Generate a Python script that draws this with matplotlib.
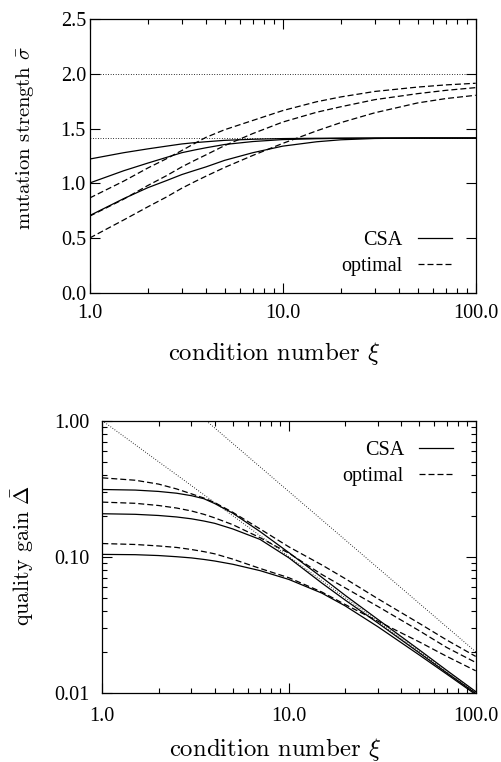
import numpy as np
import matplotlib
matplotlib.use("Agg")
import matplotlib.pyplot as plt

plt.rcParams["mathtext.fontset"] = "cm"
plt.rcParams["font.family"] = "Liberation Serif"

# condition number samples
xi = [1, 1.5, 2, 2.5, 3, 3.5, 4, 5, 7, 10, 15, 20, 30, 50, 70, 100]

# mutation strength (top)
sig_csa_1 = [1.222, 1.28, 1.315, 1.34, 1.36, 1.372, 1.38, 1.393, 1.403, 1.409, 1.412, 1.413, 1.414, 1.414, 1.414, 1.414]
sig_csa_2 = [1.003, 1.115, 1.185, 1.237, 1.28, 1.305, 1.325, 1.355, 1.382, 1.40, 1.408, 1.411, 1.413, 1.414, 1.414, 1.414]
sig_csa_3 = [0.705, 0.86, 0.96, 1.025, 1.08, 1.118, 1.15, 1.21, 1.28, 1.34, 1.38, 1.398, 1.41, 1.414, 1.414, 1.414]
sig_opt_1 = [0.866, 1.02, 1.14, 1.225, 1.30, 1.365, 1.42, 1.49, 1.575, 1.665, 1.746, 1.79, 1.84, 1.88, 1.90, 1.915]
sig_opt_2 = [0.70, 0.855, 0.98, 1.07, 1.15, 1.21, 1.26, 1.345, 1.455, 1.56, 1.65, 1.70, 1.765, 1.82, 1.85, 1.875]
sig_opt_3 = [0.50, 0.665, 0.785, 0.875, 0.955, 1.015, 1.065, 1.145, 1.255, 1.365, 1.48, 1.555, 1.645, 1.735, 1.775, 1.805]
sig_ref = [2.0, 1.414]

# quality gain (bottom)
gain_csa_1 = [0.312, 0.309, 0.302, 0.293, 0.281, 0.267, 0.246, 0.209, 0.153, 0.107, 0.0705, 0.052, 0.0345, 0.0206, 0.0146, 0.0102]
gain_csa_2 = [0.207, 0.205, 0.201, 0.196, 0.19, 0.183, 0.176, 0.16, 0.134, 0.098, 0.064, 0.048, 0.0325, 0.0196, 0.014, 0.0099]
gain_csa_3 = [0.104, 0.1035, 0.102, 0.1, 0.098, 0.0955, 0.093, 0.088, 0.079, 0.068, 0.054, 0.0435, 0.0305, 0.0189, 0.0137, 0.0097]
gain_opt_1 = [0.38, 0.365, 0.342, 0.315, 0.29, 0.27, 0.25, 0.212, 0.16, 0.118, 0.087, 0.069, 0.049, 0.0323, 0.0244, 0.0185]
gain_opt_2 = [0.252, 0.247, 0.238, 0.228, 0.217, 0.205, 0.193, 0.172, 0.138, 0.106, 0.074, 0.059, 0.043, 0.0285, 0.0215, 0.0167]
gain_opt_3 = [0.125, 0.123, 0.12, 0.117, 0.113, 0.109, 0.105, 0.096, 0.082, 0.07, 0.055, 0.0445, 0.0335, 0.0236, 0.0185, 0.0145]
ref_xi = [1, 100]
ref_lo = [1.0, 0.01]
ref_hi = [2.0, 0.02]
ref_hi_xi = [2, 100]

xticks = [1, 10, 100]
xticklabels = ["1.0", "10.0", "100.0"]

fig = plt.figure(figsize=(5.02, 7.62), dpi=100)
ax1 = fig.add_axes([0.1787, 0.6159, 0.7689, 0.3588])
ax2 = fig.add_axes([0.2038, 0.0909, 0.7438, 0.3570])

lw = 0.9
dash = (4.8, 2.4)
dot = (0.8, 1.8)
tick_fs = 14.5
xlabel_fs = 17.8

# top
for y in sig_ref:
    ax1.axhline(y, color="black", lw=0.7, dashes=dot)
ax1.plot(xi, sig_csa_1, color="black", lw=lw, label="CSA")
ax1.plot(xi, sig_csa_2, color="black", lw=lw)
ax1.plot(xi, sig_csa_3, color="black", lw=lw)
ax1.plot(xi, sig_opt_1, color="black", lw=lw, dashes=dash, label="optimal")
ax1.plot(xi, sig_opt_2, color="black", lw=lw, dashes=dash)
ax1.plot(xi, sig_opt_3, color="black", lw=lw, dashes=dash)
ax1.set_xscale("log")
ax1.set_xlim(1, 100)
ax1.set_ylim(0, 2.5)
ax1.set_yticks([0, 0.5, 1.0, 1.5, 2.0, 2.5])
ax1.set_yticklabels(["0.0", "0.5", "1.0", "1.5", "2.0", "2.5"])
ax1.set_xlabel(r"condition number $\xi$", family="cmr10", fontsize=xlabel_fs)
ax1.set_ylabel(r"mutation strength $\bar{\sigma}$", family="cmr10", fontsize=14.8)
ax1.xaxis.set_label_coords(0.477, -0.172)
ax1.yaxis.set_label_coords(-0.14, 0.566)
ax1.legend(loc="lower right", bbox_to_anchor=(0.9386, 0.062), frameon=False,
           markerfirst=False, handlelength=1.7, handletextpad=0.75,
           labelspacing=0.35, borderpad=0, borderaxespad=0, fontsize=tick_fs)

# bottom
ax2.plot(ref_xi, ref_lo, color="black", lw=0.7, dashes=dot)
ax2.plot(ref_hi_xi, ref_hi, color="black", lw=0.7, dashes=dot)
ax2.plot(xi, gain_csa_1, color="black", lw=lw, label="CSA")
ax2.plot(xi, gain_csa_2, color="black", lw=lw)
ax2.plot(xi, gain_csa_3, color="black", lw=lw)
ax2.plot(xi, gain_opt_1, color="black", lw=lw, dashes=dash, label="optimal")
ax2.plot(xi, gain_opt_2, color="black", lw=lw, dashes=dash)
ax2.plot(xi, gain_opt_3, color="black", lw=lw, dashes=dash)
ax2.set_xscale("log")
ax2.set_yscale("log")
ax2.set_xlim(1, 100)
ax2.set_ylim(0.01, 1)
ax2.set_yticks([0.01, 0.1, 1])
ax2.set_yticklabels(["0.01", "0.10", "1.00"])
ax2.set_xlabel(r"condition number $\xi$", family="cmr10", fontsize=xlabel_fs)
ax2.set_ylabel(r"quality gain $\bar{\Delta}$", family="cmr10", fontsize=15.8)
ax2.xaxis.set_label_coords(0.4625, -0.158)
ax2.yaxis.set_label_coords(-0.178, 0.506)
ax2.legend(loc="upper right", bbox_to_anchor=(0.94, 0.925), frameon=False,
           markerfirst=False, handlelength=1.7, handletextpad=0.75,
           labelspacing=0.35, borderpad=0, borderaxespad=0, fontsize=tick_fs)

for ax in (ax1, ax2):
    ax.set_xticks(xticks)
    ax.set_xticklabels(xticklabels)
    ax.tick_params(which="both", direction="in", top=True, right=True,
                   labelsize=tick_fs, width=0.8)
    ax.tick_params(which="major", length=7)
    ax.tick_params(which="minor", length=3.5)
    ax.tick_params(axis="x", which="major", pad=8)
    for s in ax.spines.values():
        s.set_linewidth(0.9)

ax1.tick_params(axis="y", which="major", pad=2.7)
ax1.tick_params(axis="y", which="minor", left=False, right=False)
ax2.tick_params(axis="y", which="major", pad=9.5)
ax2.tick_params(axis="x", which="major", pad=10)
ax2.yaxis.set_minor_formatter(matplotlib.ticker.NullFormatter())
ax1.xaxis.set_minor_formatter(matplotlib.ticker.NullFormatter())
ax2.xaxis.set_minor_formatter(matplotlib.ticker.NullFormatter())

fig.savefig("out.png", dpi=100)
